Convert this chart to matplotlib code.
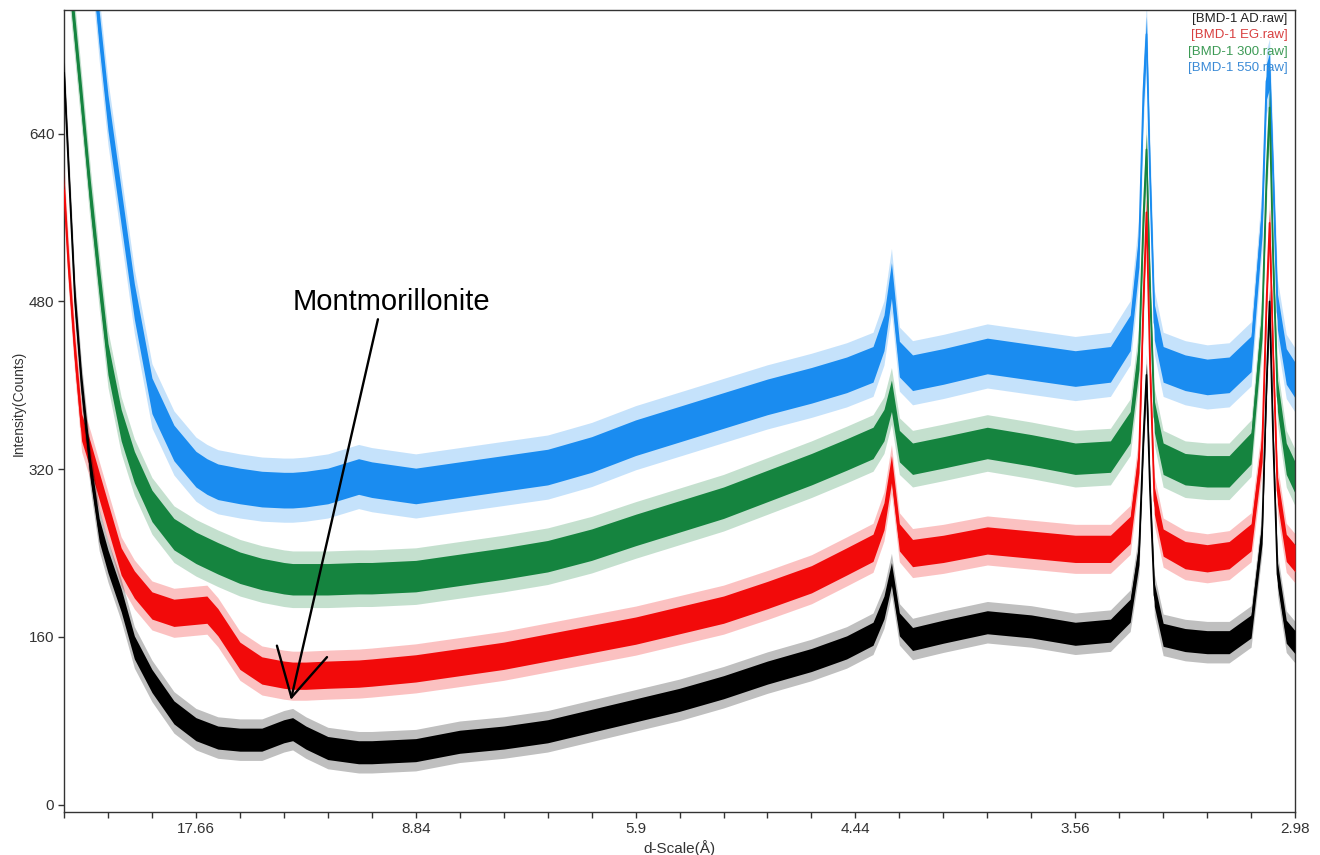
"""
XRD patterns of BMD-1 (air dried, glycolated, 300 and 550 C) on a d-scale axis
"""

import matplotlib
matplotlib.use("Agg")
import matplotlib.pyplot as plt
from matplotlib.ticker import FixedLocator, MultipleLocator

# 2-theta positions (deg, Cu Ka) of the points
twotheta = [2.0, 2.1, 2.25, 2.4, 2.6, 2.8, 3.0, 3.3, 3.6, 4.0,
            4.5, 5.0, 5.25, 5.5, 6.0, 6.5, 7.0, 7.2, 7.5, 8.0,
            8.7, 9.0, 10.0, 11.0, 12.0, 13.0, 14.0, 15.0, 16.0, 17.0,
            18.0, 19.0, 19.8, 20.4, 20.65, 20.82, 21.0, 21.3, 22.0, 23.0,
            24.0, 25.0, 25.8, 26.25, 26.45, 26.55, 26.62, 26.7, 26.8, 27.0,
            27.5, 28.0, 28.5, 29.0, 29.25, 29.35, 29.42, 29.5, 29.6, 29.8,
            30.0]

counts_ad = [698, 610, 480, 400, 320, 262, 232, 195, 150, 118,
             88, 72, 68, 64, 62, 62, 70, 72, 64, 54,
             50, 50, 52, 60, 64, 70, 80, 90, 100, 112,
             126, 138, 150, 163, 188, 220, 172, 158, 165, 174,
             170, 163, 166, 185, 240, 350, 410, 300, 200, 162,
             157, 155, 155, 170, 260, 400, 480, 350, 220, 165,
             155]

counts_eg = [586, 515, 430, 360, 333, 304, 275, 232, 210, 190,
             183, 185, 186, 174, 142, 128, 124, 123, 123, 124,
             125, 126, 130, 136, 142, 150, 158, 166, 176, 186,
             200, 215, 232, 245, 275, 320, 255, 240, 244, 252,
             248, 244, 244, 262, 330, 480, 565, 420, 290, 250,
             238, 235, 238, 255, 340, 480, 555, 430, 300, 245,
             235]

counts_300 = [840, 800, 735, 670, 580, 500, 425, 362, 322, 285,
              258, 245, 240, 235, 226, 220, 216, 215, 215, 215,
              216, 216, 218, 224, 230, 237, 248, 262, 275, 288,
              304, 320, 334, 345, 362, 390, 342, 330, 336, 345,
              338, 330, 332, 360, 430, 560, 625, 490, 370, 330,
              320, 318, 318, 340, 460, 600, 665, 520, 390, 330,
              312]

counts_550 = [1050, 1010, 950, 900, 830, 740, 660, 570, 480, 390,
              345, 320, 313, 308, 304, 301, 300, 300, 301, 304,
              313, 310, 304, 310, 316, 322, 334, 350, 363, 376,
              389, 400, 410, 420, 450, 500, 425, 412, 418, 428,
              422, 416, 420, 450, 530, 680, 735, 600, 460, 420,
              412, 408, 410, 430, 560, 690, 700, 600, 470, 418,
              405]

# width of the noise band of each trace (counts)
noise = {'AD': 11, 'EG': 13, '300': 15, '550': 17}

names = ['[BMD-1 AD.raw]', '[BMD-1 EG.raw]', '[BMD-1 300.raw]', '[BMD-1 550.raw]']
xtick_pos = [5, 10, 15, 20, 25, 30]
xtick_labels = ['17.66', '8.84', '5.9', '4.44', '3.56', '2.98']
ytick_pos = [0, 160, 320, 480, 640]

colors = {'AD': '#000000', 'EG': '#f20a0a', '300': '#15843f', '550': '#1a8cf0'}
label_colors = ['#222222', '#d84040', '#3c9a55', '#3a8ad6']
narrow = ['Liberation Sans Narrow', 'Liberation Sans', 'DejaVu Sans']


def draw_trace(ax, x, y, half, color, z):
    lo = [v - half for v in y]
    hi = [v + half for v in y]
    lo2 = [v - 1.8 * half for v in y]
    hi2 = [v + 1.8 * half for v in y]
    ax.fill_between(x, lo2, hi2, color=color, alpha=0.25, lw=0, zorder=z)
    ax.fill_between(x, lo, hi, color=color, lw=0, zorder=z + 0.1)
    ax.plot(x, y, color=color, lw=1.2, zorder=z + 0.2)


fig = plt.figure(figsize=(13.2, 8.55), dpi=100)
ax = fig.add_axes([0.0485, 0.0503, 0.9326, 0.938])

series = [('550', counts_550), ('300', counts_300), ('EG', counts_eg), ('AD', counts_ad)]
for i, (key, vals) in enumerate(series):
    draw_trace(ax, twotheta, vals, noise[key], colors[key], 1 + i)

ax.set_xlim(2, 30)
ax.set_ylim(-7, 758)

ax.xaxis.set_major_locator(FixedLocator(xtick_pos))
ax.xaxis.set_minor_locator(MultipleLocator(1))
ax.set_xticklabels(xtick_labels, fontfamily=narrow, fontsize=11, color='#333333')
ax.set_yticks(ytick_pos)
ax.set_yticklabels([str(v) for v in ytick_pos], fontfamily=narrow, fontsize=11,
                   color='#333333')
ax.tick_params(axis='both', which='both', direction='out', length=4,
               width=1, color='#333333', pad=3)

for sp in ax.spines.values():
    sp.set_color('#333333')
    sp.set_linewidth(1)

ax.set_xlabel('d-Scale(Å)', fontfamily=narrow, fontsize=11, color='#333333')
ax.xaxis.set_label_coords(0.5, -0.035)
ax.set_ylabel('Intensity(Counts)', fontfamily=narrow, fontsize=10, color='#333333')
ax.yaxis.set_label_coords(-0.031, 0.51)

# file names, coloured like the traces
for i, (txt, c) in enumerate(zip(names, label_colors)):
    ax.text(0.994, 0.989 - i * 0.0205, txt, transform=ax.transAxes,
            ha='right', va='center', color=c, fontsize=9.5,
            fontfamily=['Liberation Sans', 'DejaVu Sans'])

ax.text(9.44, 472, 'Montmorillonite', ha='center', va='baseline', fontsize=21,
        fontfamily=['Liberation Sans', 'DejaVu Sans'], zorder=10)
ax.annotate('', xy=(7.16, 100), xytext=(9.14, 463),
            arrowprops=dict(arrowstyle='->,head_length=3.4,head_width=1.85',
                            mutation_scale=10, lw=1.7, color='black',
                            shrinkA=0, shrinkB=0),
            zorder=10)

fig.savefig('out.png', dpi=100)
